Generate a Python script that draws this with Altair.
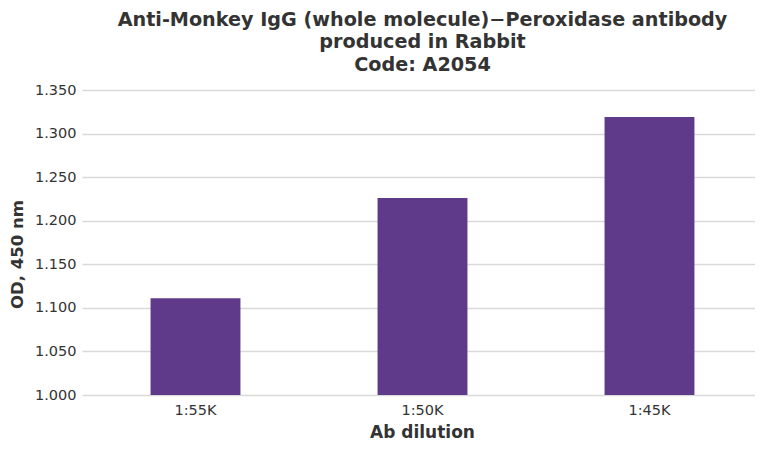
import altair as alt
import pandas as pd

categories = ["1:55K", "1:50K", "1:45K"]
od_values = [1.111, 1.226, 1.319]

df = pd.DataFrame({"dilution": categories, "od": od_values})

FONT = "DejaVu Sans"

chart = alt.Chart(df).mark_bar(color="#5f3a8b", clip=True).encode(
    x=alt.X(
        "dilution:N",
        sort=categories,
        scale=alt.Scale(paddingInner=0.604, paddingOuter=0.302, range=[0, 681]),
        axis=alt.Axis(
            title="Ab dilution",
            titleX=340,
            labelAngle=0,
            labelFont=FONT,
            labelFontSize=14.5,
            labelColor="#333333",
            labelPadding=8,
            titleFont=FONT,
            titleFontSize=17,
            titleFontWeight="bold",
            titleColor="#333333",
            titlePadding=8,
            domain=False,
            ticks=False,
            grid=False,
        ),
    ),
    y=alt.Y(
        "od:Q",
        scale=alt.Scale(domain=[1.0, 1.35], zero=False, nice=False),
        axis=alt.Axis(
            title="OD, 450 nm",
            values=[1.0, 1.05, 1.1, 1.15, 1.2, 1.25, 1.3, 1.35],
            format=".3f",
            labelFont=FONT,
            labelFontSize=14.5,
            labelColor="#333333",
            labelPadding=6,
            titleFont=FONT,
            titleFontSize=16.5,
            titleFontWeight="bold",
            titleColor="#333333",
            titlePadding=9,
            titleY=164,
            domain=False,
            ticks=False,
            grid=True,
            gridColor="#d9d9d9",
            gridWidth=1.5,
        ),
    ),
).properties(
    width=673,
    height=305,
    title=alt.TitleParams(
        text=[
            "Anti-Monkey IgG (whole molecule)\u2212Peroxidase antibody",
            "produced in Rabbit",
            "Code: A2054",
        ],
        font=FONT,
        fontSize=19.2,
        fontWeight="bold",
        color="#333333",
        lineHeight=22.4,
        anchor="middle",
        dx=4,
        offset=7,
    ),
    autosize=alt.AutoSizeParams(type="none"),
    padding={"left": 74, "top": 82, "right": 0, "bottom": 46},
).configure_view(stroke=None)

chart.save("out.html", embed_options={"renderer": "svg", "actions": False})
